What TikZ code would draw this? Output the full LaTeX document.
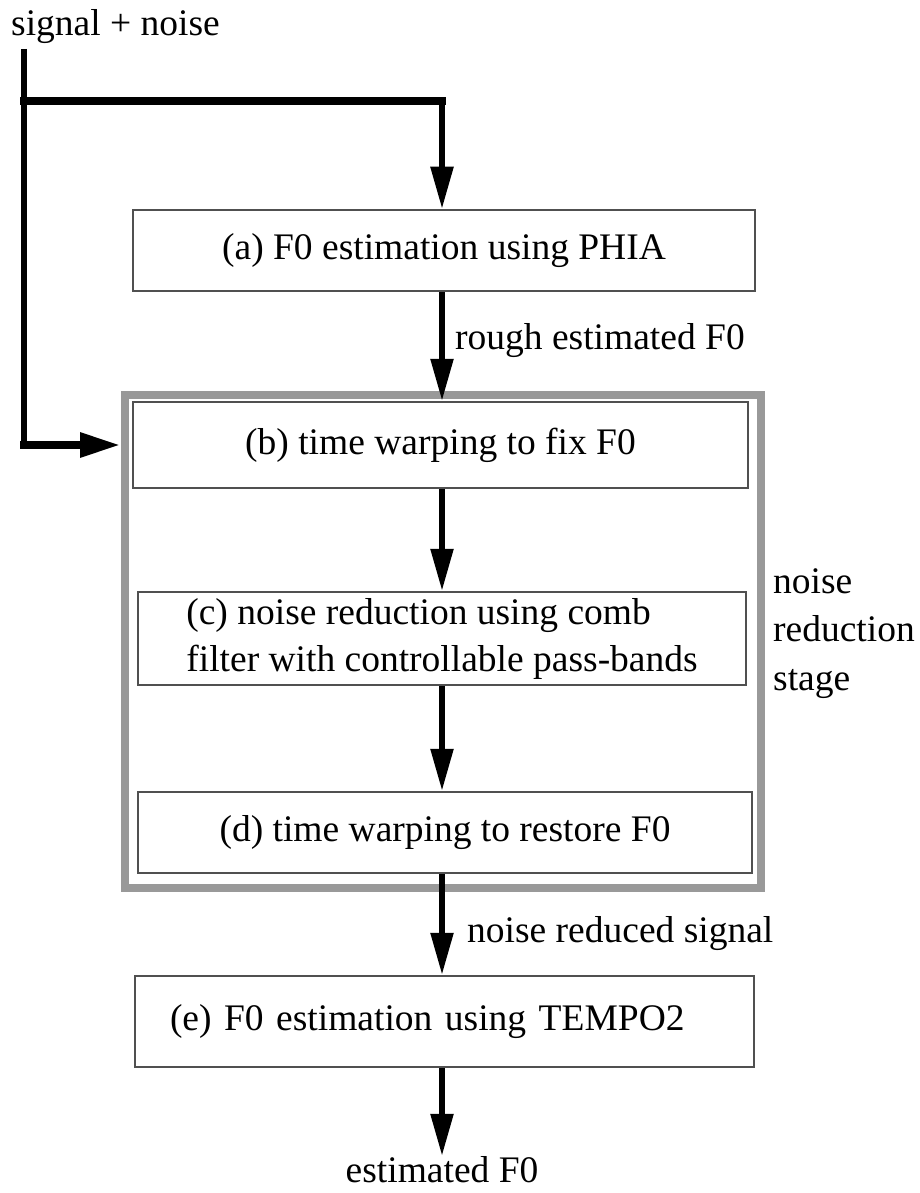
\documentclass[tikz,border=0pt]{standalone}
\usepackage{fontspec}
\setmainfont{Liberation Serif}
\usetikzlibrary{arrows.meta}
\definecolor{framegray}{RGB}{153,153,153}
\definecolor{edgegray}{RGB}{80,80,80}
\begin{document}
\begin{tikzpicture}[x=1pt,y=-1pt,
  txt/.style={font=\fontsize{37.5}{48.5}\selectfont, inner sep=0pt},
  box/.style={draw=edgegray, line width=2.5pt, fill=white, inner sep=0pt,
              font=\fontsize{37.5}{47}\selectfont},
  flow/.style={line width=5.5pt, -{Triangle[length=42pt,width=22pt]}},
  hflow/.style={line width=8.5pt, line cap=rect, -{Triangle[length=41pt,width=23pt]}},
  vwire/.style={line width=5.5pt},
  hwire/.style={line width=8.5pt, line cap=rect}]
\useasboundingbox (0,0) rectangle (920,1193);

% noise reduction stage frame
\node[draw=framegray, line width=8pt, minimum width=636pt, minimum height=493pt,
      inner sep=0pt] (stage) at (443,641.5) {};

% processing blocks
\node[box, minimum width=622pt, minimum height=81pt] (a) at (444,250.5)
  {(a) F0 estimation using PHIA};
\node[box, minimum width=615pt, minimum height=86pt] (b) at (440.5,445)
  {(b) time warping to fix F0};
\node[box, align=left, minimum width=608pt, minimum height=93pt] (c) at (442,638.5)
  {(c) noise reduction using comb\\filter with controllable pass-bands};
\node[box, text width=549pt, inner xsep=35pt, align=left,
      minimum height=91pt] (e) at (444.5,1021.5)
  {(e) F0 estimation using TEMPO2};
\node[box, minimum width=614pt, minimum height=81pt] (d) at (445,832.5)
  {(d) time warping to restore F0};

% texts
\node[txt, anchor=base west] (in) at (11,36) {signal + noise};
\node[txt, anchor=base west] (rough) at (455,349) {rough estimated F0};
\node[txt, anchor=base west] (nrs) at (467,942) {noise reduced signal};
\node[txt, anchor=north west, align=left] (stlabel) at (773,568)
  {noise\\reduction\\stage};
\node[txt, anchor=base] (out) at (442,1182) {estimated F0};

% signal routing
\coordinate (col) at (442,0);
\coordinate (src) at (24,49);
\coordinate (split) at (24,101);
\coordinate (turn) at (src |- b.west);
\draw[vwire] (src) -- (turn);
\draw[hwire] (split) -- (split -| col);
\draw[flow] (split -| col) -- (a.north -| col);
\draw[hflow] (turn) -- (b.west -| stage.west);
\draw[flow] (a.south -| col) -- (b.north -| col);
\draw[flow] (b.south -| col) -- (c.north -| col);
\draw[flow] (c.south -| col) -- (d.north -| col);
\draw[flow] (d.south -| col) -- (e.north -| col);
\draw[flow] (e.south -| col) -- (out.north -| col);
\end{tikzpicture}
\end{document}
